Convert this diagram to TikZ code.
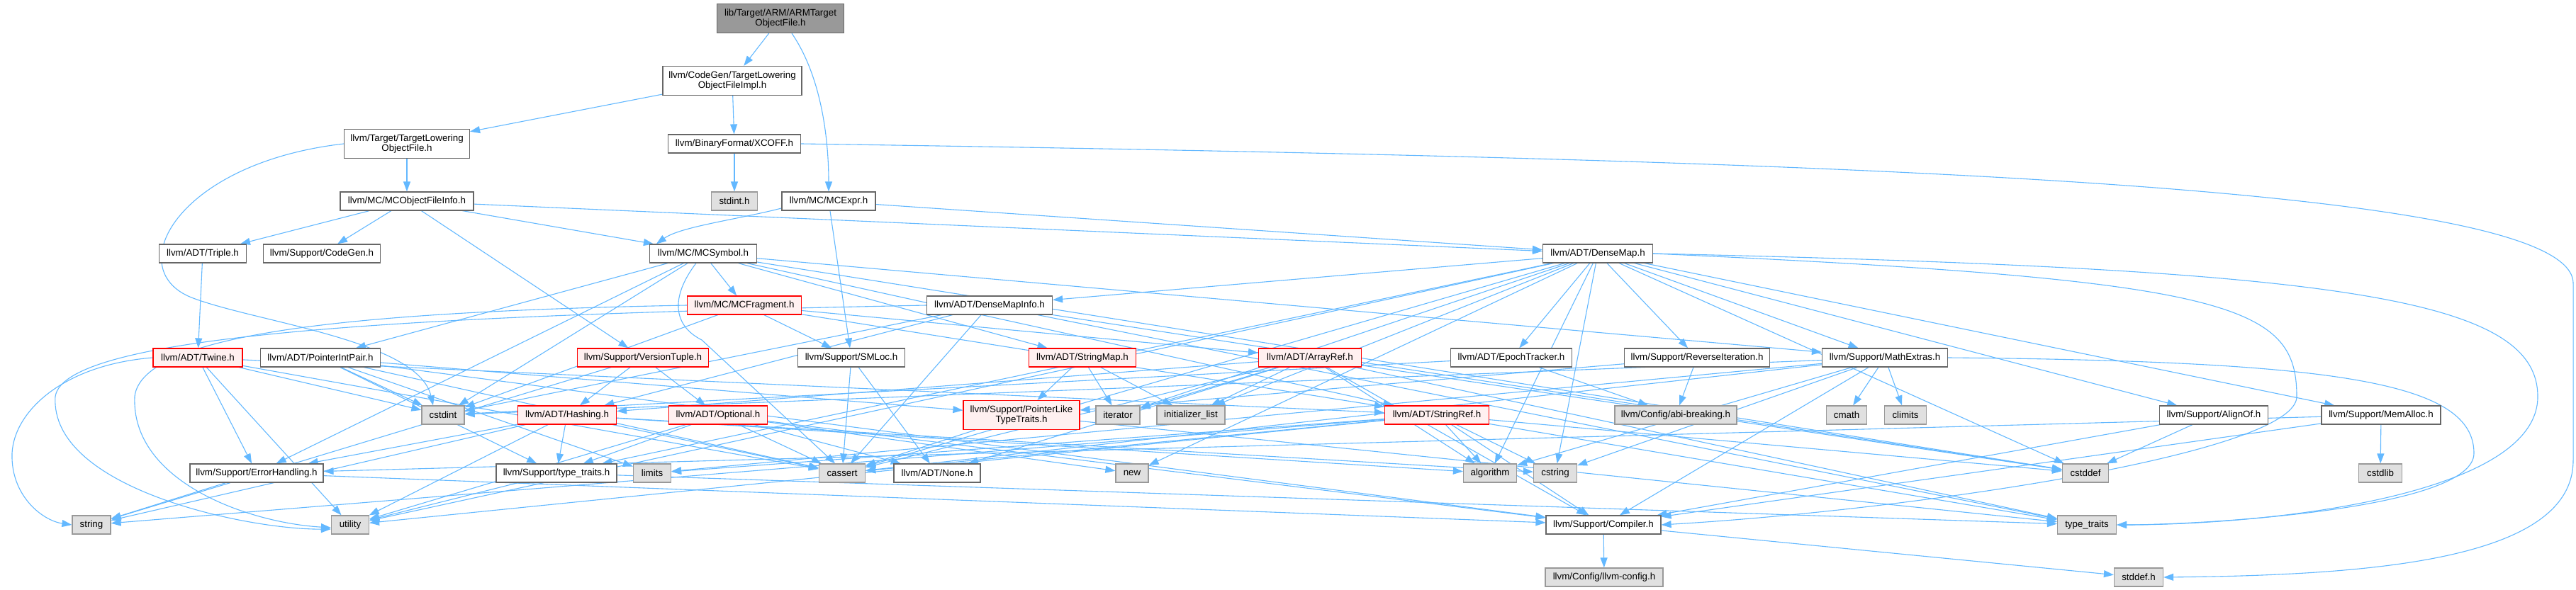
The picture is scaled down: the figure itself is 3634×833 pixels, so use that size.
\documentclass[tikz,border=0pt]{standalone}
\usepackage{fontspec}
\setmainfont{Liberation Sans}
\usetikzlibrary{arrows.meta,backgrounds}
\definecolor{edgec}{HTML}{63B8FF}
\definecolor{nborder}{HTML}{666666}
\definecolor{gfill}{HTML}{E0E0E0}
\definecolor{gborder}{HTML}{999999}
\definecolor{rfill}{HTML}{FFF0F0}
\definecolor{rootfill}{HTML}{999999}
\tikzset{
  box/.style={rectangle, draw=nborder, fill=white, line width=0.6pt, inner sep=0pt,
    minimum height=13pt, align=center, font=\fontsize{6.67pt}{7.2pt}\selectfont},
  twoline/.style={minimum height=20.5pt},
  sys/.style={box, draw=gborder, fill=gfill},
  trunc/.style={box, draw=red, fill=rfill},
  rootbox/.style={box, fill=rootfill, draw=nborder},
  edge/.style={draw=edgec, line width=0.55pt, -{Triangle[length=7pt,width=5pt]}},
}
\newcommand\nd[6]{\node[#5, minimum width=#4*0.5pt] (#1) at (#2,#3) {#6};}
\newcommand\E[2]{\foreach \tgt in {#2}{\draw[edge] (#1) -- (\tgt);}}
\begin{document}
\begin{tikzpicture}[x=0.5pt,y=-0.5pt]
\useasboundingbox (0,0) rectangle (3634,833);
% nodes
\nd{root}{1101}{26}{179}{rootbox,twoline}{lib/Target/ARM/ARMTarget\\ObjectFile.h}
\nd{tlofi}{1033}{114}{196}{box,twoline}{llvm/CodeGen/TargetLowering\\ObjectFileImpl.h}
\nd{tlof}{574}{203}{177}{box,twoline}{llvm/Target/TargetLowering\\ObjectFile.h}
\nd{xcoff}{1036}{203}{187}{box}{llvm/BinaryFormat/XCOFF.h}
\nd{mcofi}{574}{284}{188}{box}{llvm/MC/MCObjectFileInfo.h}
\nd{stdinth}{1036}{284}{65}{sys}{stdint.h}
\nd{mcexpr}{1169}{284}{132}{box}{llvm/MC/MCExpr.h}
\nd{triple}{286}{358}{123}{box}{llvm/ADT/Triple.h}
\nd{codegen}{454}{358}{165}{box}{llvm/Support/CodeGen.h}
\nd{mcsym}{992}{358}{151}{box}{llvm/MC/MCSymbol.h}
\nd{densemap}{2254}{358}{155}{box}{llvm/ADT/DenseMap.h}
\nd{mcfrag}{1050}{431}{161}{trunc}{llvm/MC/MCFragment.h}
\nd{dmi}{1396}{431}{177}{box}{llvm/ADT/DenseMapInfo.h}
\nd{twine}{279}{505}{126}{trunc}{llvm/ADT/Twine.h}
\nd{pip}{452}{505}{169}{box}{llvm/ADT/PointerIntPair.h}
\nd{vtuple}{907}{505}{185}{trunc}{llvm/Support/VersionTuple.h}
\nd{smloc}{1201}{505}{151}{box}{llvm/Support/SMLoc.h}
\nd{strmap}{1527}{505}{151}{trunc}{llvm/ADT/StringMap.h}
\nd{arrayref}{1848}{505}{145}{trunc}{llvm/ADT/ArrayRef.h}
\nd{epoch}{2132}{505}{171}{box}{llvm/ADT/EpochTracker.h}
\nd{reviter}{2394}{505}{205}{box}{llvm/Support/ReverseIteration.h}
\nd{mathext}{2659}{505}{177}{box}{llvm/Support/MathExtras.h}
\nd{cstdint}{625}{586}{60}{sys}{cstdint}
\nd{hashing}{800}{586}{139}{trunc}{llvm/ADT/Hashing.h}
\nd{optional}{1013}{586}{139}{trunc}{llvm/ADT/Optional.h}
\nd{pltt}{1441}{586}{164}{trunc,twoline}{llvm/Support/PointerLike\\TypeTraits.h}
\nd{iterator}{1577}{586}{62}{sys}{iterator}
\nd{initlist}{1680}{586}{96}{sys}{initializer\_list}
\nd{strref}{2027}{586}{147}{trunc}{llvm/ADT/StringRef.h}
\nd{abi}{2364}{586}{172}{sys}{llvm/Config/abi-breaking.h}
\nd{cmath}{2605}{586}{57}{sys}{cmath}
\nd{climits}{2688}{586}{59}{sys}{climits}
\nd{alignof}{3123}{586}{153}{box}{llvm/Support/AlignOf.h}
\nd{memalloc}{3359}{586}{168}{box}{llvm/Support/MemAlloc.h}
\nd{errh}{362}{668}{188}{box}{llvm/Support/ErrorHandling.h}
\nd{sttraits}{785}{668}{170}{box}{llvm/Support/type\_traits.h}
\nd{limits}{920}{668}{53}{sys}{limits}
\nd{cassert}{1188}{668}{65}{sys}{cassert}
\nd{none}{1322}{668}{122}{box}{llvm/ADT/None.h}
\nd{new}{1597}{668}{46}{sys}{new}
\nd{algorithm}{2102}{668}{75}{sys}{algorithm}
\nd{cstring}{2194}{668}{61}{sys}{cstring}
\nd{cstddef}{2942}{668}{65}{sys}{cstddef}
\nd{cstdlib}{3358}{668}{61}{sys}{cstdlib}
\nd{string}{129}{741}{54}{sys}{string}
\nd{utility}{494}{741}{53}{sys}{utility}
\nd{compiler}{2262}{741}{162}{box}{llvm/Support/Compiler.h}
\nd{ttraits}{2944}{741}{83}{sys}{type\_traits}
\nd{llvmcfg}{2263}{815}{166}{sys}{llvm/Config/llvm-config.h}
\nd{stddefh}{3017}{815}{69}{sys}{stddef.h}
% edges
\begin{scope}[on background layer]
\E{root}{tlofi}
\draw[edge] ([xshift=8pt]root.south) .. controls (1160,110) and (1169,200) .. (mcexpr.north);
\E{tlofi}{tlof,xcoff}
\E{tlof}{mcofi}
\draw[edge] (tlof.west) .. controls (250,230) and (170,380) .. (270,420) .. controls (360,455) and (590,480) .. ([xshift=-7pt]cstdint.north);
\E{xcoff}{stdinth}
\draw[edge] (xcoff.east) .. controls (2600,225) and (3630,260) .. (3630,400) -- (3630,650) .. controls (3630,790) and (3350,812) .. (stddefh.east);
\E{mcofi}{triple,codegen,vtuple,densemap}
\draw[edge] (mcofi) -- ([xshift=3pt]mcsym.north west);
\draw[edge] ([yshift=-5pt]mcexpr.west) .. controls (1040,310) and (960,320) .. ([xshift=5pt]mcsym.north west);
\E{mcexpr}{densemap,smloc}
\E{triple}{twine}
\E{mcsym}{mcfrag,pip,strmap,strref,mathext,cstddef,cstdint,errh}
\draw[edge] ([xshift=-5pt]mcsym.south) .. controls (945,420) and (950,460) .. (990,480) -- ([xshift=-5pt]cassert.north);
\E{mcfrag}{arrayref,smloc,cstdint,strref}
\draw[edge] (mcfrag.west) .. controls (500,440) and (200,470) .. (190,560) .. controls (185,680) and (350,738) .. ([yshift=-2pt]utility.west);
\E{dmi}{hashing,cassert,cstddef,cstdint,ttraits}
\draw[edge] (dmi.west) .. controls (600,445) and (90,470) .. (78,560) .. controls (70,690) and (350,748) .. ([yshift=-3pt]utility.west);
\E{densemap}{dmi,epoch,alignof,mathext,memalloc,reviter,sttraits,algorithm,cassert,cstddef,cstring,initlist,iterator,new,utility}
\draw[edge] (densemap.east) .. controls (3300,380) and (3580,420) .. (3580,560) .. controls (3580,700) and (3200,741) .. (ttraits.east);
\draw[edge] (densemap.east) .. controls (3150,395) and (3240,430) .. (3240,560) .. controls (3240,640) and (2700,720) .. (compiler.east);
\E{twine}{strref,errh,cassert,cstdint,utility}
\draw[edge] (twine.west) .. controls (90,515) and (20,580) .. (17,640) .. controls (15,700) and (60,735) .. (string.west);
\E{pip}{compiler,pltt,sttraits,cassert,cstdint,limits}
\E{vtuple}{hashing,optional,string}
\E{smloc}{cassert,none}
\E{strmap}{pltt,iterator,initlist}
\E{arrayref}{hashing,none,compiler,algorithm,cassert,cstddef,initlist,iterator,ttraits}
\E{epoch}{abi,cstdint}
\E{reviter}{abi,pltt}
\E{mathext}{compiler,algorithm,cassert,climits,cmath,cstdint,cstring,limits}
\draw[edge] (mathext.east) .. controls (3300,510) and (3490,540) .. (3490,640) .. controls (3490,720) and (3100,741) .. (ttraits.east);
\E{hashing}{errh,sttraits,algorithm,cassert,cstring,string,utility}
\E{optional}{none,compiler,sttraits,cassert,new,utility}
\E{pltt}{cassert,ttraits}
\E{strref}{compiler,algorithm,cassert,cstddef,cstring,limits,string,ttraits,utility}
\E{alignof}{cstddef,compiler}
\E{memalloc}{compiler,errh,cstdlib}
\E{errh}{compiler,string}
\E{sttraits}{ttraits,utility}
\E{compiler}{llvmcfg,stddefh}
\end{scope}
\end{tikzpicture}
\end{document}
